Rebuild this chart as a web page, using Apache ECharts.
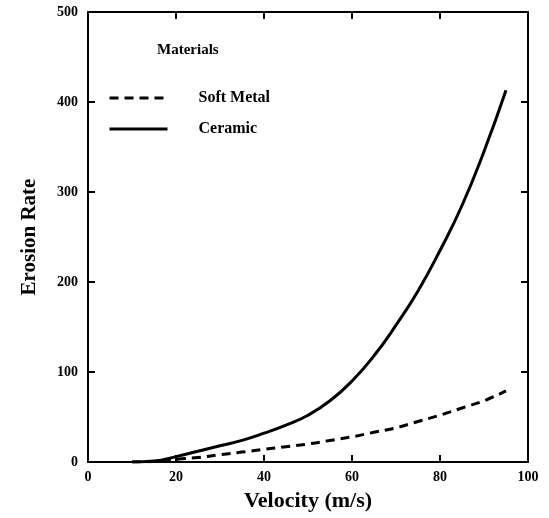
<!DOCTYPE html>
<html>
<head>
<meta charset="utf-8">
<script src="https://cdn.jsdelivr.net/npm/echarts@6/dist/echarts.min.js"></script>
<style>
  html, body { margin: 0; padding: 0; background: #fff; }
  #chart { width: 549px; height: 518px; }
</style>
</head>
<body>
<div id="chart"></div>
<script>
// values
const velocity = [10, 15, 20, 25, 30, 35, 40, 45, 50, 55, 60, 65, 70, 75, 80, 85, 90, 95]
const ceramic = [0, 1, 6, 12, 18, 24, 32, 41, 52, 68, 90, 118, 152, 190, 235, 285, 345, 413]
const softMetal = [0, 0.5, 3, 5, 8, 11, 14, 17, 20, 24, 28, 33, 38, 45, 52, 60, 68, 79]

const font = '"Liberation Serif", "DejaVu Serif", serif'
const pair = (xs, ys) => xs.map((x, i) => [x, ys[i]])

const axisBase = {
  type: 'value',
  axisLine: { show: true, onZero: false, lineStyle: { color: '#000', width: 2 } },
  axisTick: { show: true, inside: true, length: 7, lineStyle: { color: '#000', width: 2 } },
  splitLine: { show: false }
}

const myChart = echarts.init(document.getElementById('chart'))
myChart.setOption({
  animation: false,
  title: {
    text: 'Materials',
    left: 152,
    top: 38,
    textStyle: { fontFamily: font, fontWeight: 'bold', fontSize: 15, color: '#000' }
  },
  legend: {
    orient: 'vertical',
    left: 103,
    top: 85,
    itemGap: 15,
    itemWidth: 58,
    itemHeight: 16,
    itemStyle: { opacity: 0 },
    lineStyle: { width: 3 },
    textStyle: { fontFamily: font, fontWeight: 'bold', fontSize: 16, color: '#000', padding: [0, 0, 0, 26] },
    data: ['Soft Metal', 'Ceramic']
  },
  grid: { left: 88, right: 21, top: 12, bottom: 56, outerBoundsMode: 'none' },
  xAxis: [
    {
      ...axisBase,
      min: 0, max: 100, interval: 20,
      name: 'Velocity (m/s)',
      nameLocation: 'middle',
      nameGap: 28,
      nameTextStyle: { fontFamily: font, fontWeight: 'bold', fontSize: 22, color: '#000' },
      axisLabel: { fontFamily: font, fontWeight: 'bold', fontSize: 14, color: '#000', margin: 8 }
    },
    {
      ...axisBase,
      position: 'top',
      min: 0, max: 100, interval: 20,
      axisLabel: { show: false }
    }
  ],
  yAxis: [
    {
      ...axisBase,
      min: 0, max: 500, interval: 100,
      name: 'Erosion Rate',
      nameLocation: 'middle',
      nameGap: 48,
      nameTextStyle: { fontFamily: font, fontWeight: 'bold', fontSize: 21, color: '#000' },
      axisLabel: { fontFamily: font, fontWeight: 'bold', fontSize: 14, color: '#000', margin: 10 }
    },
    {
      ...axisBase,
      position: 'right',
      min: 0, max: 500, interval: 100,
      axisLabel: { show: false }
    }
  ],
  series: [
    {
      name: 'Soft Metal',
      type: 'line',
      smooth: true,
      symbol: 'none',
      data: pair(velocity, softMetal),
      lineStyle: { color: '#000', width: 3, type: [9, 6] },
      itemStyle: { color: '#000' }
    },
    {
      name: 'Ceramic',
      type: 'line',
      smooth: true,
      symbol: 'none',
      data: pair(velocity, ceramic),
      lineStyle: { color: '#000', width: 3 },
      itemStyle: { color: '#000' }
    }
  ]
})
</script>
</body>
</html>
